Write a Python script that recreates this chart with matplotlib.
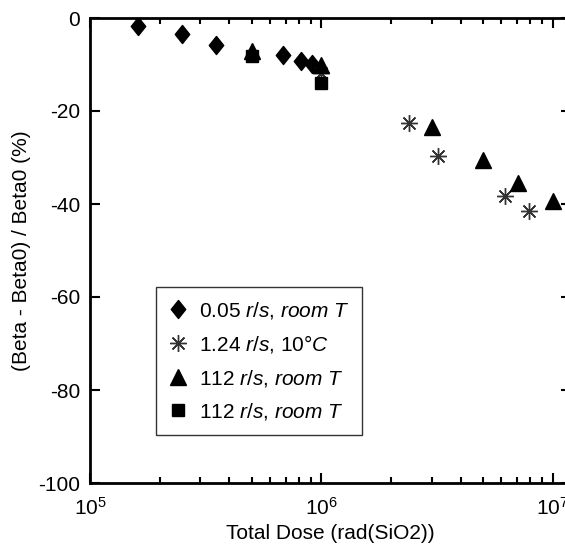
import matplotlib
matplotlib.use("Agg")
import matplotlib.pyplot as plt
from matplotlib.path import Path
from matplotlib.ticker import LogLocator, NullFormatter

plt.rcParams["font.family"] = ["Liberation Sans", "DejaVu Sans"]
plt.rcParams["mathtext.fontset"] = "custom"
plt.rcParams["mathtext.rm"] = "Liberation Sans"
plt.rcParams["mathtext.it"] = "Liberation Sans:italic"
plt.rcParams["axes.unicode_minus"] = False

# data
dose_diamond = [1.62e5, 2.5e5, 3.5e5, 6.8e5, 8.2e5, 9.1e5]
beta_diamond = [-1.7, -3.4, -5.8, -7.9, -9.2, -9.9]

dose_star = [1.0e6, 2.4e6, 3.2e6, 6.2e6, 7.9e6]
beta_star = [-11.8, -22.5, -29.6, -38.2, -41.4]

dose_tri = [5.0e5, 1.0e6, 3.0e6, 5.0e6, 7.1e6, 1.0e7]
beta_tri = [-7.2, -10.0, -23.5, -30.5, -35.5, -39.3]

dose_sq = [5.0e5, 1.0e6]
beta_sq = [-8.2, -14.0]

labels = [
    r"0.05 $\it{r/s}$, $\it{room\ T}$",
    r"1.24 $\it{r/s}$, 10°$\it{C}$",
    r"112 $\it{r/s}$, $\it{room\ T}$",
    r"112 $\it{r/s}$, $\it{room\ T}$",
]

# a diamond a bit wider than matplotlib's thin "d"
diamond = Path([(0, 1), (0.8, 0), (0, -1), (-0.8, 0), (0, 1)],
               [Path.MOVETO, Path.LINETO, Path.LINETO, Path.LINETO, Path.CLOSEPOLY])

W, H = 565, 548
fig = plt.figure(figsize=(W / 100, H / 100), dpi=100)
left, right, top, bottom = 90, 571, 18, 483
ax = fig.add_axes([left / W, 1 - bottom / H, (right - left) / W, (bottom - top) / H])

ax.plot(dose_diamond, beta_diamond, linestyle="none", marker=diamond, ms=13, color="black", label=labels[0])
ax.plot(dose_star, beta_star, linestyle="none", marker=(8, 2, 0), ms=12, mew=1.0, color="#333333", label=labels[1])
ax.plot(dose_tri, beta_tri, linestyle="none", marker="^", ms=11, color="black", label=labels[2])
ax.plot(dose_sq, beta_sq, linestyle="none", marker="s", ms=9, color="black", label=labels[3])

ax.set_xscale("log")
ax.set_xlim(1e5, 1.2e7)
ax.set_ylim(-100, 0)
ax.set_yticks([0, -20, -40, -60, -80, -100])
ax.set_xticks([1e5, 1e6, 1e7])
ax.xaxis.set_minor_locator(LogLocator(base=10, subs=range(2, 10)))
ax.xaxis.set_minor_formatter(NullFormatter())

for s in ax.spines.values():
    s.set_linewidth(2)
ax.tick_params(which="both", direction="in", top=True, right=True, labelsize=15, width=1.5)
ax.tick_params(which="major", length=7)
ax.tick_params(which="minor", length=4)
ax.tick_params(axis="y", which="major", pad=7)
ax.tick_params(axis="x", which="major", pad=10)

ax.set_xlabel("Total Dose (rad(SiO2))", fontsize=15, labelpad=4)
ax.set_ylabel("(Beta - Beta0) / Beta0 (%)", fontsize=15, labelpad=5)

leg = ax.legend(loc="upper left", bbox_to_anchor=(156 / W, 1 - 287 / H), bbox_transform=fig.transFigure,
                borderaxespad=0, fontsize=15, frameon=True, fancybox=False, labelspacing=0.6,
                handlelength=0.9, handletextpad=0.55, borderpad=0.6)
leg.get_frame().set_edgecolor("black")
leg.get_frame().set_linewidth(1)

fig.savefig("out.png", dpi=100)
